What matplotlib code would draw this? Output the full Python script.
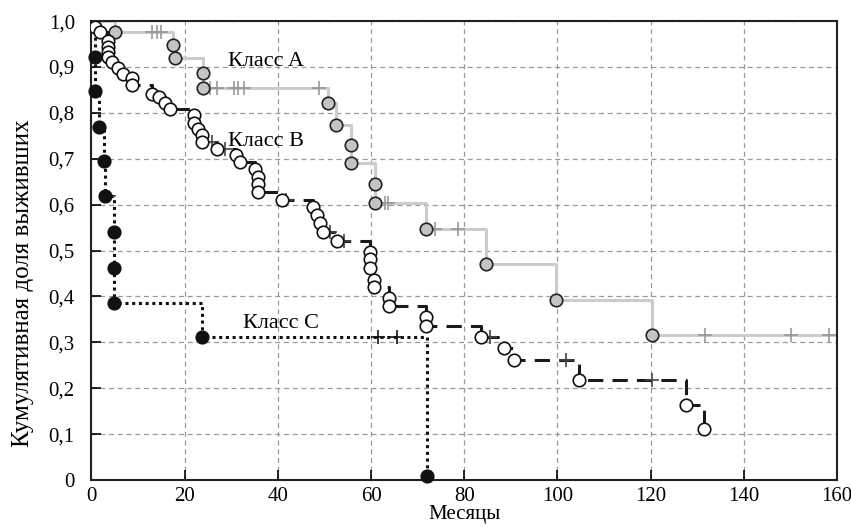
import numpy as np
import matplotlib
matplotlib.use("Agg")
from matplotlib import pyplot as plt

plt.rcParams["font.family"] = ["Liberation Serif", "DejaVu Serif"]

# Класс A
a_death_t = [5, 17.5, 18, 24, 24, 50.7, 52.4, 55.6, 55.6, 60.8, 60.8,
             71.8, 84.7, 99.7, 120.3]
a_death_s = [0.977, 0.948, 0.919, 0.887, 0.855, 0.821, 0.773, 0.730, 0.691,
             0.645, 0.604, 0.547, 0.470, 0.392, 0.316]
a_cens_t = [13, 14, 15, 25.4, 27, 30.5, 31.5, 32.7, 48.8, 62.9, 63.7,
            73.8, 78.6, 131.7, 150.2, 158.3]
a_end = 160

# Класс B
b_death_t = [0.75, 1.8, 3.6, 3.6, 3.6, 3.6, 4.4, 5.7, 6.8, 8.6, 8.6,
             12.9, 14.5, 15.8, 16.8, 22, 22, 22.9, 23.8, 23.8, 27,
             31.1, 31.8, 35, 35.8, 35.8, 35.8, 40.8, 47.5, 48.4, 49, 49.6,
             52.7, 59.7, 59.7, 59.7, 60.6, 60.6, 63.8, 63.8, 71.8, 71.8,
             83.5, 88.6, 90.6, 104.6, 127.6, 131.5]
b_death_s = [0.988, 0.977, 0.956, 0.944, 0.933, 0.922, 0.911, 0.898, 0.885,
             0.876, 0.861, 0.842, 0.834, 0.821, 0.808, 0.795, 0.778, 0.764,
             0.752, 0.737, 0.721, 0.708, 0.693, 0.677, 0.661, 0.645, 0.628,
             0.610, 0.595, 0.577, 0.561, 0.541, 0.521, 0.497, 0.481, 0.463,
             0.437, 0.421, 0.396, 0.380, 0.356, 0.336, 0.312, 0.288, 0.261,
             0.218, 0.163, 0.111]
b_cens_t = [25.8, 28.6, 41.8, 51.1, 54.3, 85.6, 101.9, 120.2]
b_end = 131.5

# Класс C
c_death_t = [0.75, 0.75, 1.6, 2.7, 2.9, 4.9, 4.9, 4.9, 23.7, 72]
c_death_s = [0.922, 0.847, 0.770, 0.695, 0.619, 0.540, 0.463, 0.386,
             0.312, 0.008]
c_cens_t = [61.4, 65.5]
c_end = 72

x_ticks = [0, 20, 40, 60, 80, 100, 120, 140, 160]
y_ticks = [0, 0.1, 0.2, 0.3, 0.4, 0.5, 0.6, 0.7, 0.8, 0.9, 1.0]
y_labels = ["0", "0,1", "0,2", "0,3", "0,4", "0,5", "0,6", "0,7", "0,8",
            "0,9", "1,0"]


def km_curve(death_t, death_s, end):
    t = np.concatenate([[0], death_t, [end]])
    s = np.concatenate([[1.0], death_s, [death_s[-1]]])
    return t, s


def censor_levels(death_t, death_s, cens_t):
    t = np.concatenate([[0], death_t])
    s = np.concatenate([[1.0], death_s])
    idx = np.searchsorted(t, cens_t, side="right") - 1
    return s[idx]


fig = plt.figure(figsize=(8.51, 5.27), dpi=100)
ax = fig.add_axes([0.1075, 0.089, 0.876, 0.871])

# A
t, s = km_curve(a_death_t, a_death_s, a_end)
ax.step(t, s, where="post", color="#cccccc", lw=2.2, zorder=2)
ax.plot(a_cens_t, censor_levels(a_death_t, a_death_s, a_cens_t), "+",
        color="#999999", ms=10, mew=1.2, zorder=3)
ax.plot(a_death_t, a_death_s, "o", mfc="#c4c4c4", mec="#222222",
        ms=9, mew=1.2, zorder=4)

# B
t, s = km_curve(b_death_t, b_death_s, b_end)
ax.step(t, s, where="post", color="#1a1a1a", lw=2.2, dashes=(5, 3),
        zorder=2)
ax.plot(b_cens_t, censor_levels(b_death_t, b_death_s, b_cens_t), "+",
        color="#444444", ms=10, mew=1.2, zorder=3)
ax.plot(b_death_t, b_death_s, "o", mfc="white", mec="#111111",
        ms=9, mew=1.2, zorder=5)

# C
t, s = km_curve(c_death_t, c_death_s, c_end)
ax.step(t, s, where="post", color="#111111", lw=2.2, dashes=(1, 1.2),
        zorder=2)
ax.plot(c_cens_t, censor_levels(c_death_t, c_death_s, c_cens_t), "+",
        color="#111111", ms=10, mew=1.2, zorder=3)
ax.plot(c_death_t, c_death_s, "o", mfc="#111111", mec="#111111",
        ms=9, mew=1.2, zorder=6, clip_on=False)

ax.text(29.3, 0.912, "Класс A", fontsize=16, va="center", zorder=7)
ax.text(29.3, 0.738, "Класс B", fontsize=16, va="center", zorder=7)
ax.text(32.5, 0.342, "Класс C", fontsize=16, va="center", zorder=7)

ax.set_xlim(0, 160)
ax.set_ylim(0, 1.0)
ax.set_xticks(x_ticks)
ax.set_yticks(y_ticks)
ax.set_yticklabels(y_labels)
ax.tick_params(direction="in", length=7, width=1.2, labelsize=15)
ax.tick_params(axis="y", pad=12)
ax.tick_params(axis="x", pad=5)
ax.grid(True, color="#999999", ls=(0, (4, 3)), lw=0.9)
ax.set_axisbelow(True)
for sp in ax.spines.values():
    sp.set_linewidth(1.5)
    sp.set_color("#222222")

ax.set_xlabel("Месяцы", fontsize=15, labelpad=-1)
ax.set_ylabel("Кумулятивная доля выживших", fontsize=18)
ax.yaxis.set_label_coords(-0.077, 0.43)

fig.savefig("out.png", dpi=100)
